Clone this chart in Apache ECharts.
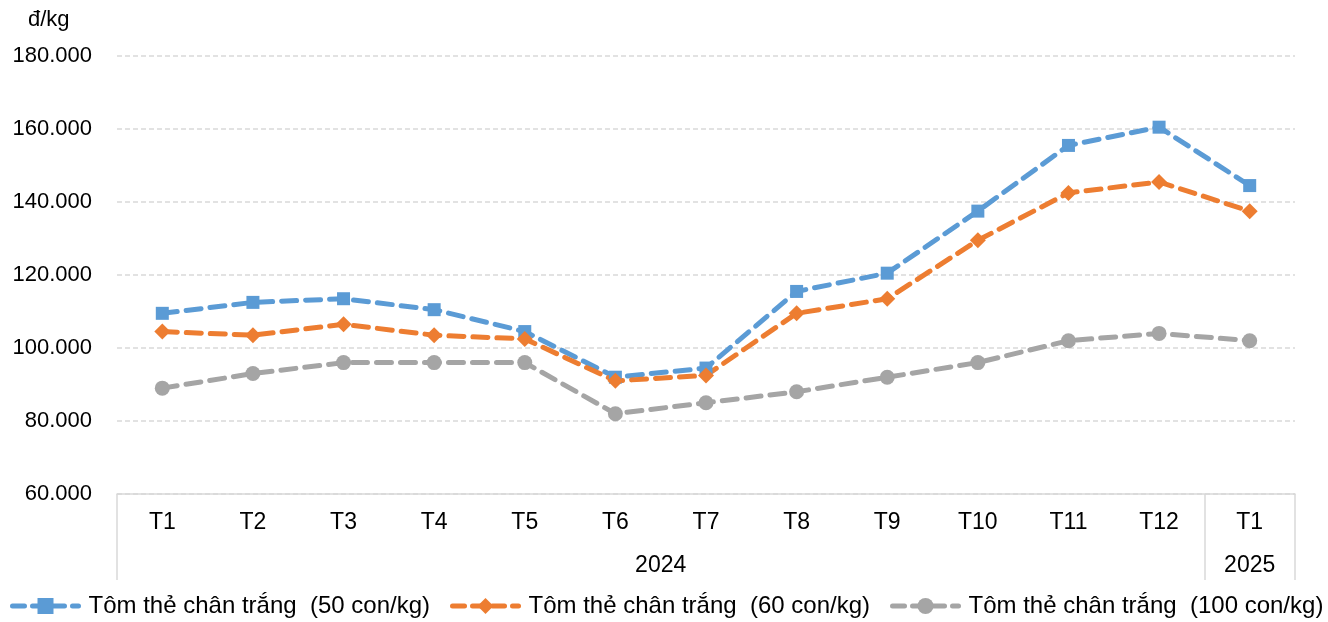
<!DOCTYPE html>
<html>
<head>
    <meta charset="utf-8">
    <title></title>
    <script src="https://cdn.jsdelivr.net/npm/echarts@6/dist/echarts.min.js" type="text/javascript"></script>
</head>
<body style="margin:0;background:#fff;">
    <div id="chartDiv" style="width:1328px;height:622px;"></div>
</body>
<script type="text/javascript" charset="utf-8">
        // du lieu doc tu hinh
        var months = ['T1', 'T2', 'T3', 'T4', 'T5', 'T6', 'T7', 'T8', 'T9', 'T10', 'T11', 'T12', 'T1'];
        var years = ['2024', '2025'];
        var yearSpan = [12, 1];
        var yTicks = [60000, 80000, 100000, 120000, 140000, 160000, 180000];
        var names = ['Tôm thẻ chân trắng  (50 con/kg)', 'Tôm thẻ chân trắng  (60 con/kg)', 'Tôm thẻ chân trắng  (100 con/kg)'];
        var gia50 = [109500, 112500, 113500, 110500, 104500, 92000, 94500, 115500, 120500, 137500, 155500, 160500, 144500];
        var gia60 = [104500, 103500, 106500, 103500, 102500, 91000, 92500, 109500, 113500, 129500, 142500, 145500, 137500];
        var gia100 = [89000, 93000, 96000, 96000, 96000, 82000, 85000, 88000, 92000, 96000, 102000, 104000, 102000];

        var font = 'Liberation Sans, Arial, sans-serif';
        var colors = ['#5B9BD5', '#ED7D31', '#A5A5A5'];
        var symbols = ['rect', 'diamond', 'circle'];
        var sizes = [13, 16, 15];
        var datas = [gia50, gia60, gia100];

        // vi tri nhan nam va vach ngan
        var yearPos = [], sepPos = [0], acc = 0;
        for (var i = 0; i < years.length; i++) {
            yearPos.push(acc + yearSpan[i] / 2);
            acc += yearSpan[i];
            sepPos.push(acc);
        }

        function fmt(v) {
            return String(v).replace(/\B(?=(\d{3})+(?!\d))/g, '.');
        }

        var series = [];
        for (var i = 0; i < datas.length; i++) {
            series.push({
                name: names[i],
                type: 'line',
                data: datas[i],
                xAxisIndex: 0,
                symbol: symbols[i],
                symbolSize: sizes[i],
                showAllSymbol: true,
                itemStyle: { color: colors[i] },
                lineStyle: { color: colors[i], width: 5, type: [15, 9], cap: 'round' }
            });
        }

        var chart = echarts.init(document.getElementById('chartDiv'));
        chart.setOption({
            animation: false,
            textStyle: { fontFamily: font },
            title: {
                text: 'đ/kg',
                left: 28,
                top: 9,
                padding: 0,
                textStyle: { fontSize: 22, color: '#000', fontWeight: 'normal', fontFamily: font }
            },
            grid: { left: 117, right: 33, top: 56, bottom: 128, containLabel: false },
            legend: {
                left: 10,
                right: 0,
                bottom: 4,
                padding: 0,
                itemWidth: 66,
                itemHeight: 20,
                itemGap: 20,
                lineStyle: { width: 5, type: [12, 8], cap: 'round' },
                textStyle: { fontSize: 24, color: '#000', fontFamily: font, padding: [0, 0, 0, 5] },
                data: names
            },
            xAxis: [{
                type: 'category',
                data: months,
                boundaryGap: true,
                axisLine: { lineStyle: { color: '#d9d9d9', width: 1.5 } },
                axisTick: { show: false },
                axisLabel: { fontSize: 23, color: '#000', margin: 17, interval: 0, fontFamily: font },
                splitLine: { show: false }
            }, {
                type: 'value',
                position: 'bottom',
                min: 0,
                max: acc,
                axisLine: { show: false },
                axisTick: {
                    show: true, inside: false, length: 86,
                    customValues: sepPos,
                    lineStyle: { color: '#d9d9d9', width: 1.5 }
                },
                axisLabel: {
                    fontSize: 23, color: '#000', margin: 60, fontFamily: font,
                    customValues: yearPos,
                    formatter: function (v) {
                        for (var k = 0; k < yearPos.length; k++) {
                            if (Math.abs(v - yearPos[k]) < 1e-6) return years[k];
                        }
                        return '';
                    }
                },
                splitLine: { show: false }
            }],
            yAxis: {
                type: 'value',
                min: yTicks[0],
                max: yTicks[yTicks.length - 1],
                interval: yTicks[1] - yTicks[0],
                axisLine: { show: false },
                axisTick: { show: false },
                axisLabel: { fontSize: 22, color: '#000', margin: 25, formatter: fmt, fontFamily: font },
                splitLine: { lineStyle: { color: '#d9d9d9', type: [5, 3], width: 1.5 } }
            },
            series: series
        });
</script>
</html>
